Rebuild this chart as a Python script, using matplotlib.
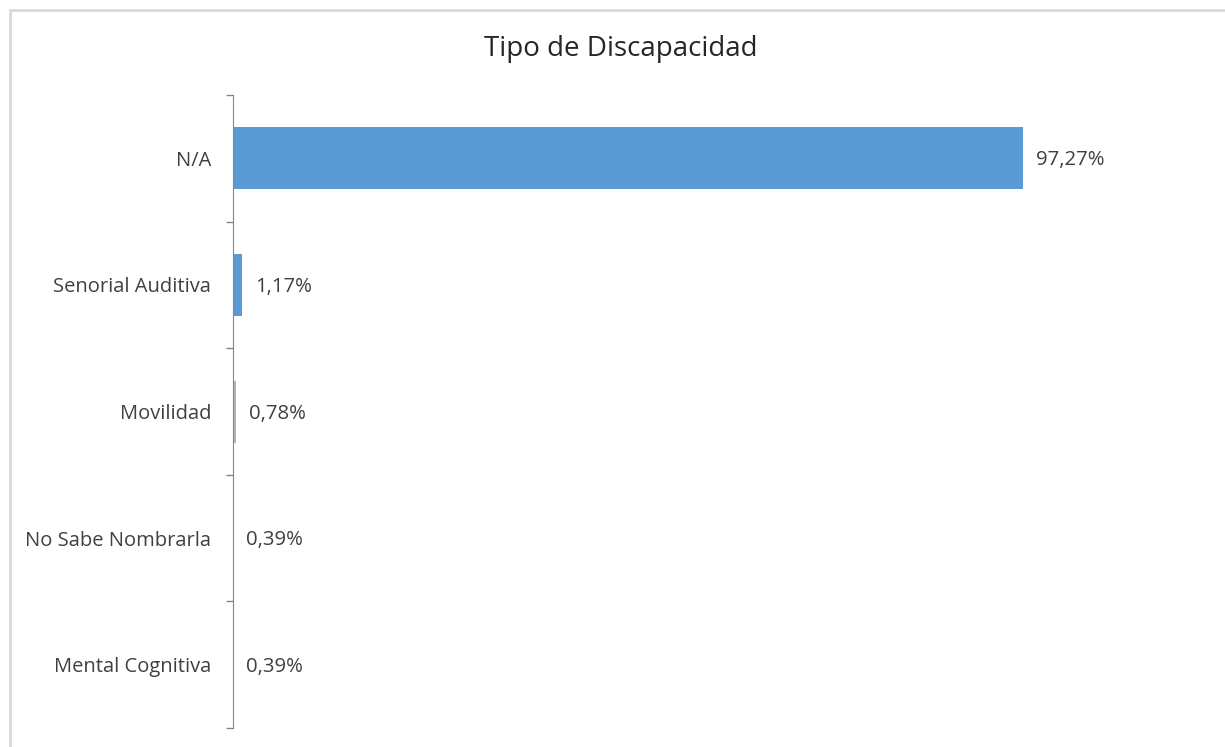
import matplotlib.pyplot as plt
from matplotlib.patches import Rectangle

# datos del grafico (de arriba hacia abajo)
categorias = ["N/A", "Senorial Auditiva", "Movilidad", "No Sabe Nombrarla", "Mental Cognitiva"]
etiquetas = ["97,27%", "1,17%", "0,78%", "0,39%", "0,39%"]
# largo de barra tal como se ve en la imagen
largos = [97.27, 1.17, 0.35, 0.0, 0.0]
colores = ["#5B9BD5", "#5B9BD5", "#B4B4B4", "#5B9BD5", "#5B9BD5"]

plt.rcParams['font.family'] = ['Open Sans', 'DejaVu Sans']
gris_texto = "#404040"
gris_eje = "#868686"

fig = plt.figure(figsize=(12.25, 7.47), dpi=100)
ax = fig.add_axes([0.190, 0.0254, 0.796, 0.8474])

pos = list(range(len(categorias)))
ax.barh(pos, largos, height=0.49, color=colores)

for p, l, txt in zip(pos, largos, etiquetas):
    ax.annotate(txt, (l, p), xytext=(9.5, -1.5), textcoords='offset points',
                va='center', ha='left', fontsize=14.7, color=gris_texto)

ax.set_xlim(0, 120)
ax.set_ylim(len(categorias) - 0.5, -0.5)

# ticks en los limites de categoria, etiquetas al centro
ax.set_yticks([i - 0.5 for i in range(len(categorias) + 1)])
ax.set_yticklabels([])
ax.set_yticks(pos, minor=True)
ax.set_yticklabels(categorias, minor=True, fontsize=14.5, color=gris_texto)
ax.tick_params(axis='y', which='major', length=5, color=gris_eje, width=1)
ax.tick_params(axis='y', which='minor', length=0, pad=15.5)
ax.set_xticks([])

for s in ['top', 'right', 'bottom']:
    ax.spines[s].set_visible(False)
ax.spines['left'].set_color(gris_eje)

fig.text(0.507, 0.935, "Tipo de Discapacidad", ha='center', va='center',
         fontsize=20, color="#262626")

# borde del area del grafico
fig.patches.append(Rectangle((10 / 1225, -0.01), 1.0, 1 - 10 / 747 + 0.01,
                             transform=fig.transFigure, fill=False,
                             edgecolor="#D9D9D9", linewidth=2))

plt.savefig("out.png", dpi=100)
